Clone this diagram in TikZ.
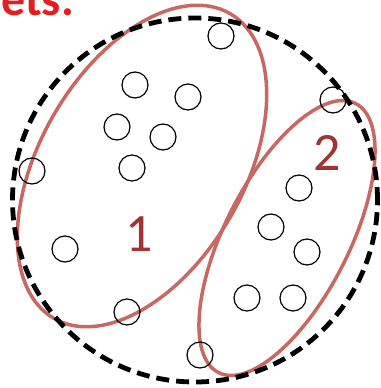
\documentclass[tikz,border=0pt]{standalone}
\usepackage{fontspec}
\setsansfont{Carlito}
\usetikzlibrary{shapes.geometric}
\definecolor{grpred}{RGB}{201,104,98}
\definecolor{labred}{RGB}{160,52,52}
\definecolor{ttlred}{RGB}{226,30,30}
\tikzset{
  universe/.style={draw=black, ellipse, line width=4.8pt, dash pattern=on 13pt off 7pt, inner sep=0pt},
  group/.style={draw=grpred, ellipse, line width=3.5pt, inner sep=0pt},
  elem/.style={draw=black, circle, line width=1.2pt, minimum size=26pt, inner sep=0pt},
  tag/.style={font=\sffamily\fontsize{54}{54}\selectfont, text=labred, inner sep=0pt}
}
\begin{document}
\begin{tikzpicture}[x=1pt, y=-1pt]
\useasboundingbox (0,0) rectangle (380,388);
\clip (0,0) rectangle (380,388);
\fill[white] (0,0) rectangle (380,388);
% the two subsets
\node[group, minimum width=352pt, minimum height=204pt, rotate=60] (g1) at (142,166) {};
\node[group, minimum width=302pt, minimum height=124pt, rotate=63] (g2) at (287,238) {};
% the whole set
\node[universe, minimum width=365pt, minimum height=364pt] (all) at (195,200) {};
% elements
\node[elem] (p1) at (221,36) {};
\node[elem] (p2) at (135,85) {};
\node[elem] (p3) at (188,97) {};
\node[elem] (p4) at (117,127) {};
\node[elem] (p5) at (163,137) {};
\node[elem] (p6) at (132,168) {};
\node[elem] (p7) at (32,171) {};
\node[elem] (p8) at (65,249) {};
\node[elem] (p9) at (127,312) {};
\node[elem] (p10) at (333,100) {};
\node[elem] (p11) at (299,188) {};
\node[elem] (p12) at (271,227) {};
\node[elem] (p13) at (307,252) {};
\node[elem] (p14) at (247,298) {};
\node[elem] (p15) at (293,298) {};
\node[elem] (p16) at (200,355) {};
% labels
\node[tag] (n1) at (139,234) {1};
\node[tag] (n2) at (327,153) {2};
\node[font=\sffamily\bfseries\fontsize{48}{48}\selectfont, text=ttlred, anchor=base east, inner sep=0pt] (ttl) at (74,15) {ets.};
\end{tikzpicture}
\end{document}
